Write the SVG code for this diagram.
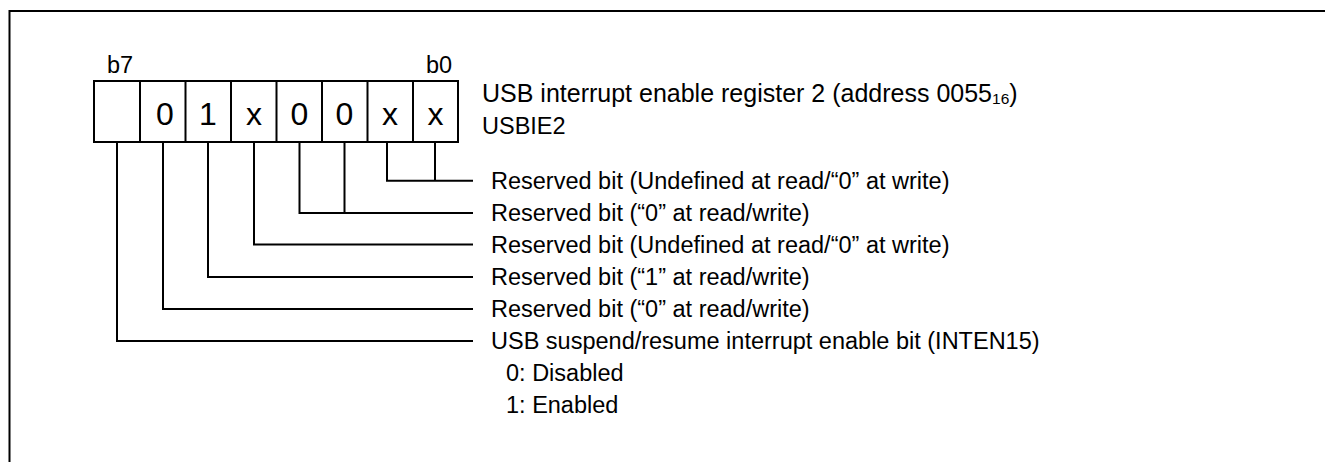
<svg xmlns="http://www.w3.org/2000/svg" width="1325" height="462" viewBox="0 0 1325 462">
<style>
text{font-family:"Liberation Sans",Arial,sans-serif;fill:#000}
.t{font-size:23.5px}
.h{font-size:25px}
.d{font-size:32px;text-anchor:middle}
.ln{fill:none;stroke:#000;stroke-width:2}
.box{fill:#fff;stroke:#000;stroke-width:2}
</style>
<rect width="1325" height="462" fill="#fff"/>
<g id="frame"><path class="ln" d="M9.5,462 V11 H1325" stroke-width="2.5"/></g>
<g id="register">
<rect class="box" x="94" y="81" width="364" height="61"/>
<path class="ln" d="M140,81V142M185.5,81V142M231,81V142M276.5,81V142M322,81V142M367.5,81V142M413,81V142"/>
<text class="t" x="107" y="73">b7</text>
<text class="t" x="426" y="73">b0</text>
<text class="d" x="165" y="125">0</text>
<text class="d" x="208" y="125">1</text>
<text class="d" x="254" y="125">x</text>
<text class="d" x="299.5" y="125">0</text>
<text class="d" x="344.5" y="125">0</text>
<text class="d" x="390" y="125">x</text>
<text class="d" x="435.5" y="125">x</text>
</g>
<g id="title">
<text class="h" x="482" y="102">USB interrupt enable register 2 (address 0055<tspan font-size="15.5" dy="2">16</tspan><tspan dy="-2">)</tspan></text>
<text class="t" x="482" y="134">USBIE2</text>
</g>
<g id="connectors">
<path class="ln" d="M387,142V180.7H473M435,142V180.7"/>
<path class="ln" d="M299.5,142V213H473M344.5,142V213"/>
<path class="ln" d="M254,142V244.5H473"/>
<path class="ln" d="M208,142V277H473"/>
<path class="ln" d="M163,142V309H473"/>
<path class="ln" d="M117,142V341H473"/>
</g>
<g id="bit-labels">
<text class="t" x="491" y="189">Reserved bit (Undefined at read/“0” at write)</text>
<text class="t" x="491" y="221">Reserved bit (“0” at read/write)</text>
<text class="t" x="491" y="253">Reserved bit (Undefined at read/“0” at write)</text>
<text class="t" x="491" y="285">Reserved bit (“1” at read/write)</text>
<text class="t" x="491" y="317">Reserved bit (“0” at read/write)</text>
<text class="t" x="491" y="349">USB suspend/resume interrupt enable bit (INTEN15)</text>
<text class="t" x="506" y="381">0: Disabled</text>
<text class="t" x="506" y="413">1: Enabled</text>
</g>
</svg>
